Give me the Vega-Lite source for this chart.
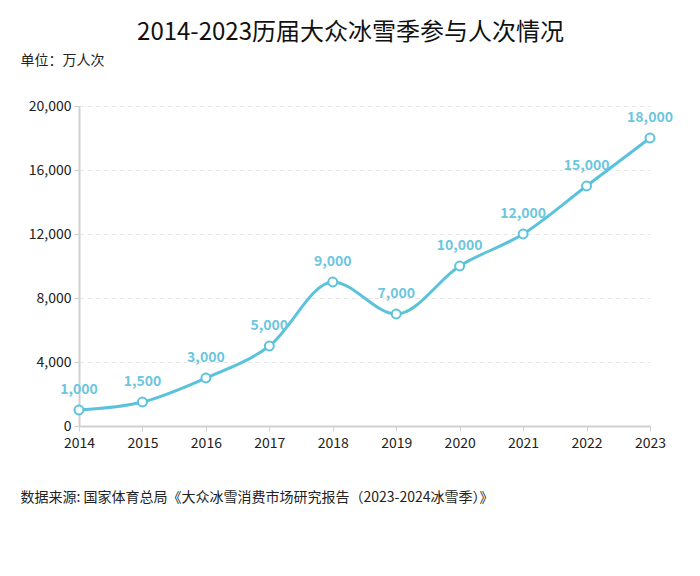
{
  "$schema": "https://vega.github.io/schema/vega-lite/v6.json",
  "autosize": {"type": "none"},
  "width": 571,
  "height": 320,
  "padding": {"left": 79, "top": 106, "right": 50, "bottom": 150},
  "background": "white",
  "config": {
    "font": "Noto Sans CJK SC",
    "view": {"stroke": null}
  },
  "title": {
    "text": "2014-2023历届大众冰雪季参与人次情况",
    "anchor": "middle",
    "dx": -14,
    "offset": 8,
    "fontSize": 24,
    "fontWeight": "normal",
    "color": "#111111"
  },
  "data": {
    "values": [
      {"year": "2014", "value": 1000},
      {"year": "2015", "value": 1500},
      {"year": "2016", "value": 3000},
      {"year": "2017", "value": 5000},
      {"year": "2018", "value": 9000},
      {"year": "2019", "value": 7000},
      {"year": "2020", "value": 10000},
      {"year": "2021", "value": 12000},
      {"year": "2022", "value": 15000},
      {"year": "2023", "value": 18000}
    ]
  },
  "encoding": {
    "x": {
      "field": "year",
      "type": "quantitative",
      "scale": {"domain": [2014, 2023], "nice": false, "zero": false},
      "axis": {
        "values": [2014, 2015, 2016, 2017, 2018, 2019, 2020, 2021, 2022, 2023],
        "format": "d",
        "grid": false,
        "labelFlush": false,
        "labelOverlap": false,
        "domainColor": "#d0d0d0",
        "domainWidth": 2,
        "tickColor": "#d0d0d0",
        "tickSize": 5,
        "labelFontSize": 14,
        "labelColor": "#222222",
        "labelPadding": 5,
        "title": "数据来源: 国家体育总局《大众冰雪消费市场研究报告（2023-2024冰雪季）》",
        "titleX": -59,
        "titleY": 71,
        "titleAlign": "left",
        "titleBaseline": "middle",
        "titleFontSize": 14,
        "titleFontWeight": "normal",
        "titleColor": "#222222"
      }
    },
    "y": {
      "field": "value",
      "type": "quantitative",
      "scale": {"domain": [0, 20000], "nice": false},
      "axis": {
        "values": [0, 4000, 8000, 12000, 16000, 20000],
        "format": ",.0f",
        "grid": true,
        "gridColor": "#e6e6e6",
        "gridDash": [4, 4],
        "domainColor": "#d0d0d0",
        "domainWidth": 2,
        "tickColor": "#d0d0d0",
        "tickSize": 5,
        "labelFontSize": 14,
        "labelColor": "#222222",
        "labelPadding": 3,
        "title": "单位：万人次",
        "titleAngle": 0,
        "titleX": -59,
        "titleY": -46,
        "titleAlign": "left",
        "titleBaseline": "middle",
        "titleFontSize": 14,
        "titleFontWeight": "normal",
        "titleColor": "#222222"
      }
    }
  },
  "layer": [
    {
      "mark": {"type": "line", "color": "#5BC2DC", "strokeWidth": 3, "interpolate": "monotone"}
    },
    {
      "mark": {"type": "point", "filled": true, "fill": "white", "stroke": "#5BC2DC", "strokeWidth": 2, "size": 80, "opacity": 1}
    },
    {
      "mark": {"type": "text", "dy": -20, "fontSize": 14, "fontWeight": "bold", "color": "#6CC6E0"},
      "encoding": {"text": {"field": "value", "type": "quantitative", "format": ",.0f"}}
    }
  ]
}
